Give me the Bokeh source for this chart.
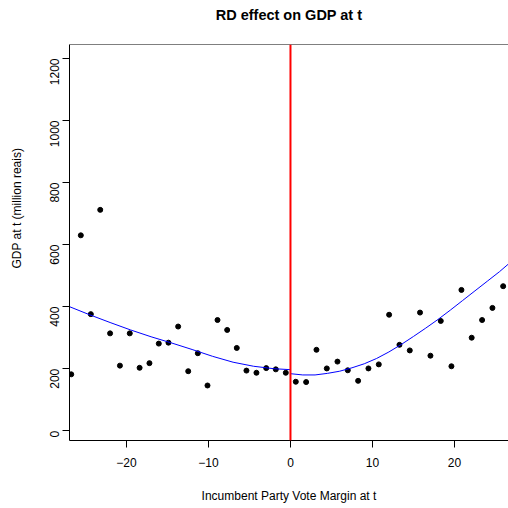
from bokeh.plotting import figure
from bokeh.models import FixedTicker, Span, Range1d, Title
from bokeh.embed import file_html
from bokeh.resources import INLINE
import math

# ---- data ----
x_left = [-26.74, -25.57, -24.35, -23.20, -22.00, -20.80, -19.60, -18.40, -17.20, -16.06,
          -14.88, -13.70, -12.47, -11.30, -10.12, -8.90, -7.72, -6.55, -5.37, -4.15,
          -2.96, -1.79, -0.57]
y_left = [182, 630, 376, 712, 314, 210, 314, 203, 218, 281,
          284, 336, 192, 250, 146, 357, 325, 267, 194, 187,
          202, 198, 187]

x_right = [0.65, 1.91, 3.17, 4.43, 5.73, 6.99, 8.25, 9.51, 10.77, 12.03, 13.29,
           14.55, 15.80, 17.07, 18.33, 19.63, 20.85, 22.10, 23.37, 24.63, 25.94]
y_right = [158, 157, 261, 201, 223, 195, 161, 201, 214, 374, 277,
           259, 381, 242, 354, 208, 454, 300, 357, 396, 466]

fit_left_x = [-26.95, -24.5, -22.0, -19.5, -17.0, -14.5, -12.0, -9.5, -7.0, -4.5, -2.0, 0.0]
fit_left_y = [400, 374, 349, 325, 303, 283, 262, 240, 221, 208, 200, 197]

fit_right_x = [0.0, 1.5, 3.0, 4.5, 6.0, 7.5, 9.0, 10.5, 12.0, 13.5, 15.0, 16.5, 18.0,
               19.5, 21.0, 22.5, 24.0, 25.5, 26.6]
fit_right_y = [184, 180, 180, 185, 192, 203, 216, 233, 254, 278, 304, 331, 359,
               389, 420, 451, 482, 513, 538]

cutoff = 0
x_ticks = [-20, -10, 0, 10, 20]
x_tick_labels = ["\u221220", "\u221210", "0", "10", "20"]
y_ticks = [0, 200, 400, 600, 800, 1000, 1200]
y_tick_labels = ["0", "200", "400", "600", "800", "1000", "1200"]

title_text = "RD effect on GDP at t"
x_title = "Incumbent Party Vote Margin at t"
y_title = "GDP at t  (million reais)"

# ---- figure ----
FONT = "Liberation Sans"
x_lo, x_hi = -26.95, 26.59
y_lo, y_hi = -31.3, 1245

p = figure(width=508, height=508, output_backend="svg", toolbar_location=None,
           title=None,
           x_range=Range1d(x_lo, x_hi), y_range=Range1d(y_lo, y_hi),
           min_border_left=69, min_border_right=0, min_border_top=44,
           min_border_bottom=68)
p.outline_line_color = None
p.grid.visible = False
p.background_fill_color = "white"
p.border_fill_color = "white"

for ax in (p.xaxis[0], p.yaxis[0]):
    ax.axis_line_color = "black"
    ax.axis_line_width = 1
    ax.major_tick_line_color = "black"
    ax.major_tick_out = 7
    ax.major_tick_in = 0
    ax.minor_tick_line_color = None
    ax.major_label_text_font = FONT
    ax.major_label_text_font_size = "12px"
    ax.major_label_text_color = "black"
    ax.axis_label_text_font = FONT
    ax.axis_label_text_font_size = "12px"
    ax.axis_label_text_font_style = "normal"
    ax.axis_label_text_color = "black"

p.xaxis.ticker = FixedTicker(ticks=x_ticks)
p.xaxis.major_label_overrides = dict(zip(x_ticks, x_tick_labels))
p.xaxis.axis_label = x_title
p.xaxis.major_label_standoff = 10
p.xaxis.axis_label_standoff = 19

p.yaxis.ticker = FixedTicker(ticks=y_ticks)
p.yaxis.major_label_overrides = dict(zip(y_ticks, y_tick_labels))
p.yaxis.major_label_orientation = math.pi / 2
p.yaxis.major_label_standoff = 8

# top: spacer next to the frame, then the main title
p.add_layout(Title(text=" ", text_font_size="1px", standoff=14), "above")
p.add_layout(Title(text=title_text, text_font=FONT, text_font_size="14.5px",
                   text_font_style="bold", text_color="black", align="center",
                   standoff=9), "above")

# left: spacer next to the axis, then the y title
p.add_layout(Title(text=" ", text_font_size="1px", standoff=9), "left")
p.add_layout(Title(text=y_title, text_font=FONT, text_font_size="12px",
                   text_font_style="normal", text_color="black", align="right",
                   offset=100, standoff=13), "left")

# top border of the box
p.add_layout(Span(location=y_hi, dimension="width", line_color="black", line_width=1))

# points
p.scatter(x_left, y_left, size=5, color="black")
p.scatter(x_right, y_right, size=5, color="black")

# fits
p.line(fit_left_x, fit_left_y, line_color="#0000FF", line_width=1)
p.line(fit_right_x, fit_right_y, line_color="#0000FF", line_width=1)

# cutoff
p.add_layout(Span(location=cutoff, dimension="height", line_color="#FF0000", line_width=2))

open("out.html", "w").write(file_html(p, INLINE))
